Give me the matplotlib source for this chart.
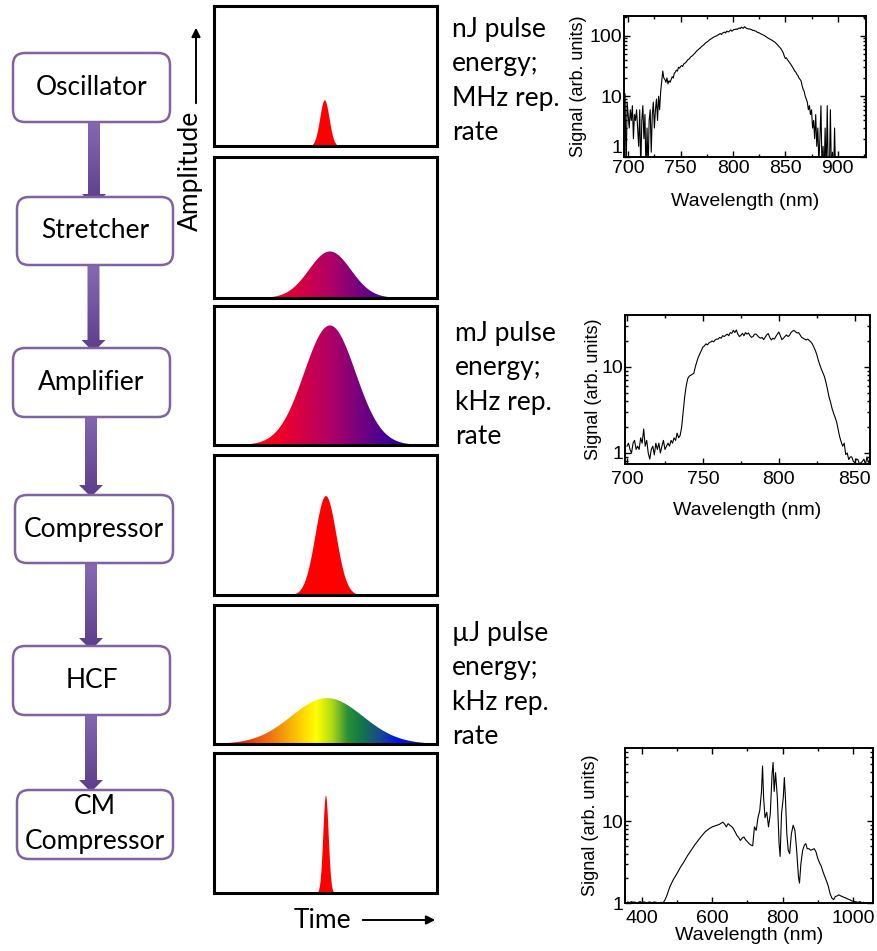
import numpy as np
import matplotlib
matplotlib.use('Agg')
import matplotlib.pyplot as plt
from matplotlib.patches import FancyBboxPatch, FancyArrow, Polygon
from matplotlib.colors import LinearSegmentedColormap
from matplotlib.ticker import MultipleLocator, LogLocator, NullFormatter

# ---- laser chain stages ----
stages = ['Oscillator', 'Stretcher', 'Amplifier', 'Compressor', 'HCF', 'CM\nCompressor']

# schematic pulse in each stage: centre, rms width, peak height (panel units)
pulse_center = [0.495, 0.52, 0.52, 0.50, 0.507, 0.50]
pulse_sigma = [0.021, 0.094, 0.115, 0.047, 0.16, 0.012]
pulse_peak = [0.33, 0.33, 0.86, 0.71, 0.33, 0.70]
pulse_fill = ['red', 'chirp', 'chirp', 'red', 'rainbow', 'red']

notes = [['nJ pulse', 'energy;', 'MHz rep.', 'rate'],
         ['mJ pulse', 'energy;', 'kHz rep.', 'rate'],
         ['\u00b5J pulse', 'energy;', 'kHz rep.', 'rate']]

# ---- measured spectra ----
# oscillator, 1 nm steps from 697 nm
wl_osc = np.arange(697, 901)
sig_osc = [
    11, 0.5, 8, 5, 3, 6, 4, 7, 2, 5,
    4, 6, 3, 1.5, 6, 0.6, 4, 7, 2, 5,
    0.5, 3, 0.6, 4, 6, 1.2, 5, 8, 3, 6,
    9, 4, 10, 6, 12, 18, 26, 20, 19, 17,
    20, 16, 18, 17, 19, 21, 20, 24, 25, 27,
    26, 30, 29, 31, 32, 31, 34, 35, 36, 38,
    40, 41, 43, 45, 46, 48, 50, 52, 55, 57,
    59, 61, 63, 66, 68, 70, 73, 76, 78, 80,
    83, 86, 88, 90, 93, 95, 97, 98, 101, 103,
    106, 108, 104, 110, 112, 114, 110, 118, 116, 115,
    120, 124, 118, 122, 127, 125, 129, 126, 131, 133,
    130, 138, 134, 132, 140, 136, 131, 130, 128, 129,
    126, 125, 121, 122, 119, 118, 114, 112, 111, 108,
    106, 104, 102, 100, 97, 95, 92, 90, 88, 86,
    84, 82, 80, 78, 75, 72, 69, 66, 63, 60,
    56, 52, 46, 42, 43, 40, 38, 36, 34, 32,
    30, 28, 26, 25, 23, 22, 20, 19, 18, 15,
    13, 12, 10, 9, 8, 6, 7, 5, 6, 3,
    4, 2, 5, 1.5, 3, 0.8, 2, 7, 0.6, 1.5,
    0.5, 3, 0.5, 7, 0.5, 0.5, 6, 0.5, 1.2, 0.5,
    3, 0.5, 0.5, 0.5]

# amplifier output, 1 nm steps from 700 nm
wl_amp = np.arange(700, 861)
sig_amp = [
    1.2, 1.3, 1.1, 1.0, 1.3, 1.4, 1.1, 1.2, 1.1, 1.5,
    1.3, 1.9, 1.2, 1.4, 1.0, 0.85, 1.1, 1.2, 0.95, 1.3,
    1.1, 1.3, 1.0, 1.2, 1.4, 1.1, 1.2, 1.3, 1.2, 1.4,
    1.3, 1.5, 1.4, 1.7, 1.5, 1.6, 2.0, 3.0, 4.5, 6.0,
    7.3, 7.8, 8.0, 8.2, 8.4, 10, 11.5, 13, 14.2, 15.5,
    17, 17.5, 18.5, 18, 19, 19.4, 20, 19.5, 20.5, 21,
    21, 22, 21.5, 23, 22.5, 23.2, 24, 23, 25, 24.5,
    26.5, 25, 26.8, 24, 22.5, 23.2, 24.5, 23, 25, 24,
    24.7, 23, 22, 22.5, 24, 24, 23, 22, 21.5, 22,
    20.7, 22, 23.5, 24.4, 22, 20.5, 21.5, 21, 22.5, 24,
    25.4, 23, 20.7, 21.5, 22.5, 23.5, 22.5, 23.2, 25, 26,
    26.5, 25.5, 24.7, 25, 23.5, 22, 21.5, 21, 20.5, 21,
    20.3, 19.5, 18.5, 17, 15.5, 13.8, 11.9, 10.5, 9.4, 8.5,
    7.7, 6.6, 5.5, 4.5, 3.9, 3.3, 2.9, 2.6, 2.3, 1.9,
    1.55, 1.35, 1.2, 1.3, 0.96, 1.0, 0.84, 0.9, 0.9, 0.8,
    0.77, 0.85, 0.84, 0.75, 0.77, 0.8, 0.85, 0.74, 0.9, 0.78,
    0.8]

# after the hollow-core fibre
wl_hcf = [360, 365, 370, 375, 380, 385, 390, 395, 400, 405,
          410, 415, 420, 425, 430, 435, 440, 445, 450, 455,
          460, 465, 470, 480, 490, 500, 510, 520, 530, 540,
          550, 560, 570, 580, 590, 600, 610, 620, 625, 630,
          635, 640, 645, 650, 655, 660, 665, 670, 675, 680,
          685, 690, 695, 700, 705, 710, 715, 720, 725, 730,
          735, 740, 743, 746, 750, 755, 760, 765, 770, 773,
          776, 780, 785, 790, 793, 797, 802, 805, 808, 812,
          816, 820, 825, 830, 835, 840, 845, 848, 852, 857,
          862, 866, 870, 875, 880, 885, 890, 895, 900, 905,
          910, 915, 920, 925, 930, 935, 940, 945, 950, 955,
          960, 965, 970, 975, 980, 985, 990, 995, 1000, 1005,
          1010, 1015, 1020, 1025, 1030, 1035]
sig_hcf = [1.03, 1.01, 1.04, 1.02, 1.03, 1.0, 1.02, 1.04, 1.01, 1.03,
           1.02, 1.0, 1.03, 1.02, 1.01, 1.03, 1.02, 1.0, 1.01, 1.02,
           1.0, 1.08, 1.2, 1.6, 1.95, 2.3, 2.75, 3.2, 3.8, 4.4,
           5.1, 5.8, 6.6, 7.4, 8.0, 8.5, 8.8, 9.1, 9.4, 9.7,
           9.2, 8.5, 9.3, 8.9, 8.6, 8.1, 7.4, 6.7, 6.3, 5.8,
           6.2, 6.4, 5.9, 5.6, 5.3, 5.1, 5.0, 8.5, 7.7, 11,
           13.4, 23, 47, 19.5, 11, 12.8, 8.5, 12.3, 37, 52,
           23, 39, 19.5, 5.3, 3.7, 12.3, 19.5, 34, 19.5, 7,
           4.4, 4.0, 7.0, 8.9, 7.7, 4.4, 2.1, 1.75, 3.0, 4.4,
           5.1, 5.3, 4.6, 4.6, 4.4, 4.5, 4.6, 4.2, 3.5, 3.1,
           2.8, 2.4, 2.1, 1.85, 1.6, 1.3, 1.15, 1.1, 1.2, 1.22,
           1.26, 1.22, 1.2, 1.17, 1.15, 1.12, 1.1, 1.07, 1.05, 1.04,
           1.03, 1.02, 1.04, 1.01, 1.02, 1.0]

W, H = 878, 951
fig = plt.figure(figsize=(W / 100, H / 100), dpi=100)
plt.rcParams['font.family'] = ['Lato', 'DejaVu Sans']
FS = 19


def px_axes(x0, y0, x1, y1):
    # axes placed by pixel box (origin top-left)
    return fig.add_axes([x0 / W, 1 - y1 / H, (x1 - x0) / W, (y1 - y0) / H])


canvas = fig.add_axes([0, 0, 1, 1])
canvas.set_xlim(0, W)
canvas.set_ylim(H, 0)
canvas.set_autoscale_on(False)
canvas.axis('off')

# ---- flow chart ----
boxes = [(13, 53, 170, 122), (17, 197, 173, 265), (13, 348, 170, 417),
         (15, 495, 173, 563), (13, 646, 170, 715), (17, 790, 173, 859)]
for name, (x0, y0, x1, y1) in zip(stages, boxes):
    canvas.add_patch(FancyBboxPatch((x0, y0), x1 - x0, y1 - y0,
                                    boxstyle='round,pad=0,rounding_size=12',
                                    facecolor='white', edgecolor='#8064a2', lw=1.8))
    lines = name.split('\n')
    yc = (y0 + y1) / 2
    for k, ln in enumerate(lines):
        dy = (k - (len(lines) - 1) / 2) * 35
        canvas.text((x0 + x1) / 2, yc + dy, ln, fontsize=FS, ha='center', va='center')

arrow_cmap = LinearSegmentedColormap.from_list('arr', ['#8a6cb6', '#5d3d8a'])
arrows = [(94, 114, 206), (93.5, 259, 352), (91, 405, 497), (91, 558, 650), (91, 702, 792)]
for x, ya, yb in arrows:
    arr = FancyArrow(x, ya, 0, yb - ya, width=12, head_width=24, head_length=12,
                     length_includes_head=True, facecolor='none', edgecolor='none')
    canvas.add_patch(arr)
    img = canvas.imshow(np.linspace(0, 1, 100).reshape(-1, 1), cmap=arrow_cmap,
                        extent=[x - 13, x + 13, yb, ya], origin='upper', aspect='auto')
    img.set_clip_path(arr)

# ---- pulse panels ----
panel_rows = [(6, 146), (157, 298), (306, 445), (455, 595), (605, 744), (753, 893)]
chirp_stops = [(0.0, '#ff0000'), (0.24, '#ff0018'), (0.52, '#b00066'),
               (0.80, '#38009a'), (1.0, '#300090')]
rainbow_stops = [(0.0, '#e00000'), (0.12, '#e82010'), (0.27, '#f08010'),
                 (0.40, '#ffd800'), (0.46, '#ffff00'), (0.53, '#b0d818'),
                 (0.60, '#2a9038'), (0.66, '#127848'), (0.74, '#1a4a8a'),
                 (0.83, '#0010f0'), (0.92, '#1a10c0'), (1.0, '#401090')]
t = np.linspace(0, 1, 800)
for i, (y0, y1) in enumerate(panel_rows):
    ax = px_axes(214, y0, 437, y1)
    amp = pulse_peak[i] * np.exp(-0.5 * ((t - pulse_center[i]) / pulse_sigma[i]) ** 2)
    if pulse_fill[i] == 'red':
        ax.fill_between(t, 0, amp, color='#ff0000', lw=0)
    else:
        stops = chirp_stops if pulse_fill[i] == 'chirp' else rainbow_stops
        cmap = LinearSegmentedColormap.from_list('p%d' % i, stops)
        img = ax.imshow(np.linspace(0, 1, 512).reshape(1, -1), extent=[0, 1, 0, 1],
                        aspect='auto', cmap=cmap, origin='lower')
        verts = np.column_stack([np.r_[t, t[::-1]], np.r_[amp, np.zeros_like(amp)]])
        poly = Polygon(verts, closed=True, facecolor='none', edgecolor='none')
        ax.add_patch(poly)
        img.set_clip_path(poly)
    ax.set_xlim(0, 1)
    ax.set_ylim(0, 1)
    ax.set_xticks([])
    ax.set_yticks([])
    for s in ax.spines.values():
        s.set_linewidth(2.2)

canvas.text(190, 171, 'Amplitude', rotation=90, fontsize=FS, ha='center', va='center')
canvas.annotate('', xy=(196, 25), xytext=(196, 106),
                arrowprops=dict(arrowstyle='-|>', color='black', lw=1.4, mutation_scale=13))
canvas.text(322, 928, 'Time', fontsize=FS, ha='center', va='baseline')
canvas.annotate('', xy=(438, 920), xytext=(360, 920),
                arrowprops=dict(arrowstyle='-|>', color='black', lw=1.4, mutation_scale=13))

# ---- energy / rep-rate notes ----
note_pos = [(452, 37), (455, 341), (452, 641)]
for lines, (x, yb) in zip(notes, note_pos):
    for k, ln in enumerate(lines):
        canvas.text(x, yb + 34.3 * k, ln, fontsize=FS, ha='left', va='baseline')

# ---- spectra ----
spec_font = 'Liberation Sans'


def spectrum(box, wl, sig, xlim, ylim, xmajor, xminor, yticks, xpad, xlabelpad, ylabelpad):
    ax = px_axes(*box)
    ax.plot(wl, sig, color='black', lw=0.8)
    ax.set_yscale('log')
    ax.set_xlim(*xlim)
    ax.set_ylim(*ylim)
    ax.set_xticks(xmajor)
    ax.set_xticklabels([str(v) for v in xmajor], family=spec_font)
    ax.xaxis.set_minor_locator(MultipleLocator(xminor))
    ax.set_yticks(yticks)
    ax.set_yticklabels([str(v) for v in yticks], family=spec_font)
    ax.yaxis.set_minor_locator(LogLocator(base=10, subs=np.arange(2, 10)))
    ax.yaxis.set_minor_formatter(NullFormatter())
    ax.tick_params(which='both', direction='in', top=True, right=True,
                   labelsize=14, width=1)
    ax.tick_params(which='major', length=4)
    ax.tick_params(which='minor', length=2)
    ax.tick_params(axis='x', which='major', pad=xpad)
    ax.tick_params(axis='y', which='major', pad=1)
    for s in ax.spines.values():
        s.set_linewidth(1.4)
    ax.set_xlabel('Wavelength (nm)', family=spec_font, fontsize=14, labelpad=xlabelpad)
    ax.set_ylabel('Signal (arb. units)', family=spec_font, fontsize=13, labelpad=ylabelpad)
    return ax


ax1 = spectrum((624, 16, 866, 157), wl_osc, sig_osc, (696, 927), (1, 210),
               [700, 750, 800, 850, 900], 25, [1, 10, 100], 2.5, 11, 2)
# the bottom "1" sits just above the frame corner
ax1.yaxis.get_major_ticks()[0].label1.set_verticalalignment('bottom')
spectrum((625, 315, 870, 464), wl_amp, sig_amp, (698.7, 860), (0.745, 40),
         [700, 750, 800, 850], 25, [1, 10], 5, 10, 0)
spectrum((625, 748, 873, 903), wl_hcf, sig_hcf, (352, 1057), (1, 78),
         [400, 600, 800, 1000], 100, [1, 10], 5, 0, 2)

fig.savefig('out.png', dpi=100)
